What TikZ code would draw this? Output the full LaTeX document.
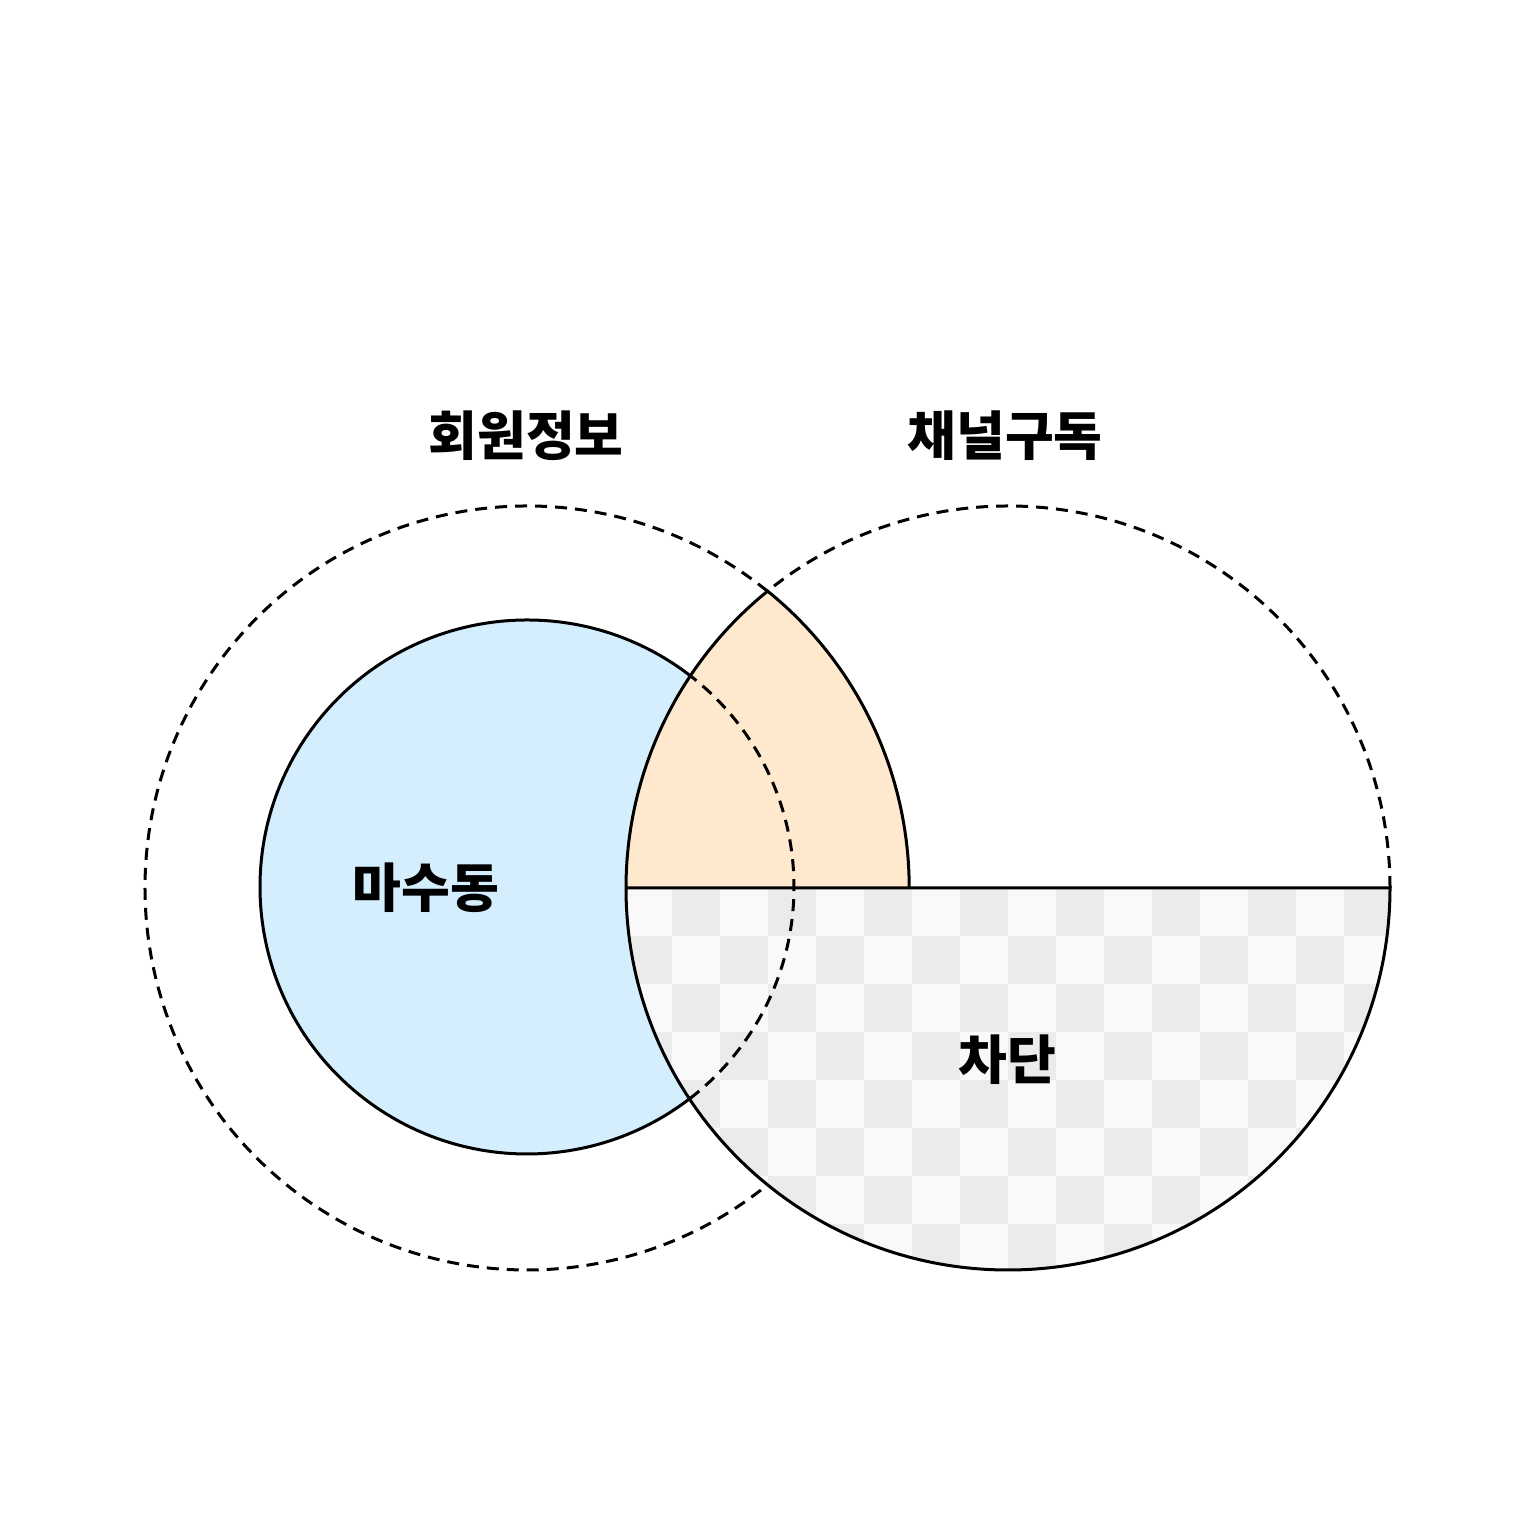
\documentclass[tikz,border=0pt]{standalone}
\usepackage{fontspec}
\newfontfamily\kr{Noto Sans CJK KR}
\definecolor{blueF}{HTML}{D4EEFD}
\definecolor{orangeF}{HTML}{FEE9CF}
\definecolor{chkL}{HTML}{F9F9F9}
\definecolor{chkD}{HTML}{EBEBEB}
\tikzset{
  solidline/.style={line width=3pt, black},
  dashline/.style={line width=3pt, black, dash pattern=on 12pt off 8pt},
  lbl/.style={font=\kr\bfseries\fontsize{53}{64}\selectfont, inner sep=0pt}
}
\begin{document}
\begin{tikzpicture}[x=1pt,y=1pt]
\useasboundingbox (0,0) rectangle (1536,1536);
\fill[white] (0,0) rectangle (1536,1536);
% centres
\coordinate (L) at (527,648);
\coordinate (R) at (1008,648);
\coordinate (B) at (527,649);
% blue circle fill
\fill[blueF] (B) circle[radius=267];
% orange lens (upper)
\fill[orangeF] (626,648) arc[start angle=180,end angle=129,radius=382]
  arc[start angle=51,end angle=0,radius=382] -- cycle;
% checker lower half of right circle
\begin{scope}
  \clip (626,648) -- (1390,648) arc[start angle=0,end angle=-180,radius=382] -- cycle;
  \fill[chkL] (600,660) rectangle (1400,250);
  \foreach \i in {0,...,16}{
    \foreach \j in {0,...,8}{
      \pgfmathtruncatemacro\kk{mod(\i+\j,2)}
      \ifnum\kk=1
        \fill[chkD] ({624+48*\i},{648-48*\j}) rectangle ++(48,-48);
      \fi
    }
  }
\end{scope}
% dashed outlines
\draw[dashline] ([shift={(51:382)}]L) arc[start angle=51,end angle=309,radius=382];
\draw[dashline] ([shift={(0:382)}]R) arc[start angle=0,end angle=129,radius=382];
\draw[dashline] ([shift={(-52.4:267)}]B) arc[start angle=-52.4,end angle=52.4,radius=267];
% solid outlines
\draw[solidline] ([shift={(52.4:267)}]B) arc[start angle=52.4,end angle=307.6,radius=267];
\draw[solidline, line join=miter] (626,648) arc[start angle=180,end angle=129,radius=382]
  arc[start angle=51,end angle=0,radius=382];
\draw[solidline] (626,648) -- (1390,648) arc[start angle=0,end angle=-180,radius=382];
% labels
\node[lbl] (t1) at (526,1100) {회원정보};
\node[lbl] (t2) at (1005,1100) {채널구독};
\node[lbl] (t3) at (426,648) {마수동};
\node[lbl] (t4) at (1007,476) {차단};
\end{tikzpicture}
\end{document}
